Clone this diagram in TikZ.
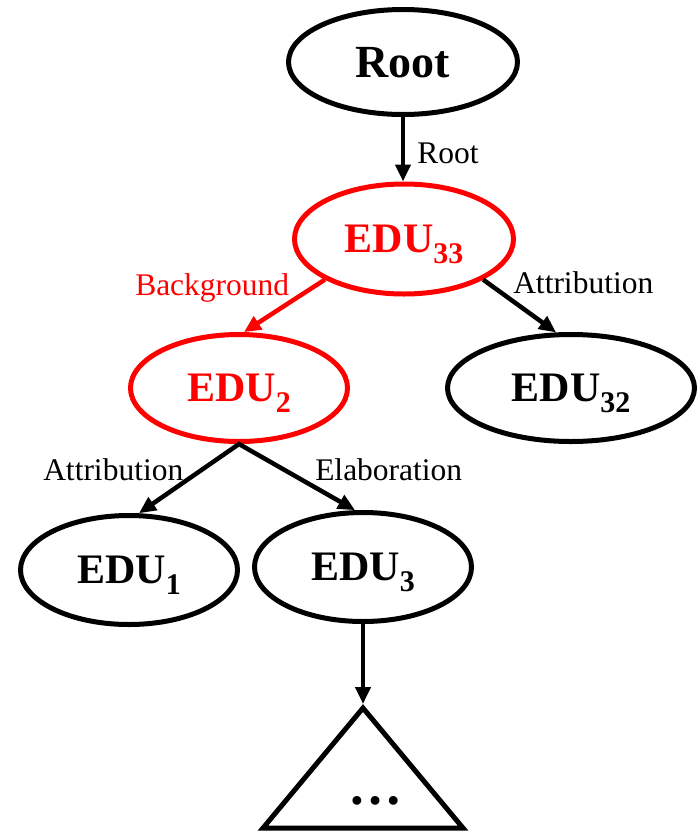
\documentclass[tikz,border=0pt]{standalone}
\usepackage{fontspec}
\setmainfont{Liberation Serif}
\usetikzlibrary{arrows.meta, shapes.geometric}

\newcommand{\edufont}{\fontsize{42}{46}\selectfont\bfseries}
\newcommand{\labfont}{\fontsize{31.5}{34}\selectfont}
\newcommand{\dsub}[1]{\raisebox{-11pt}{\fontsize{30}{30}\selectfont #1}}

\begin{document}
\begin{tikzpicture}[
    x=1pt, y=-1pt,
    >={Triangle[length=17pt,width=15pt]},
    line width=4.5pt,
    edu/.style={
        draw,
        ellipse,
        line width=5pt,
        minimum width=217pt,
        minimum height=107pt,
        inner sep=0pt,
        text depth=0pt,
        font=\edufont
    },
    hl/.style={
        draw=red,
        text=red
    },
    lab/.style={
        anchor=base west,
        inner sep=0pt,
        font=\labfont
    }
]
\useasboundingbox (0,0) rectangle (698,831);

% =========================================================
% Tree nodes
% =========================================================
\node[edu, minimum width=229pt, minimum height=105pt,
      font=\fontsize{46}{50}\selectfont\bfseries] (root) at (403, 62) {Root};

\node[edu, hl, minimum width=219pt, minimum height=110pt] (edu33) at (404, 239) {EDU\dsub{33}};

\node[edu, hl] (edu2)  at (239, 388) {EDU\dsub{2}};
\node[edu, minimum width=247pt] (edu32) at (571, 388) {EDU\dsub{32}};

\node[edu, minimum height=109pt] (edu1) at (129, 570) {EDU\dsub{1}};
\node[edu, minimum height=109pt] (edu3) at (363, 567) {EDU\dsub{3}};

% subtree below EDU_3
\coordinate (sub) at (363, 704);
\draw[line width=5pt, line join=miter] (363, 708) -- (263, 828) -- (463, 828) -- cycle;
\node[anchor=base, inner sep=0pt, font=\fontsize{54}{54}\selectfont\bfseries] (dots) at (375, 804) {…};

% =========================================================
% Relations
% =========================================================
\draw[->] (root.south) -- (root.south |- edu33.north);
\node[lab] (lroot) at (415, 163) {Root};

\draw[->, red] (edu33.south west) -- (edu2.85);
\node[lab, text=red] (lback) at (133, 295) {Background};

\draw[->] (edu33.south east) -- (edu32.105);
\node[lab] (lattr1) at (511, 293) {Attribution};

\draw[<->] (edu1.80) -- (edu2.south) -- (edu3.98);
\node[lab] (lattr2) at (41, 480) {Attribution};
\node[lab] (lelab)  at (313, 480) {Elaboration};

\draw[->] (edu3.south) -- (sub);

\end{tikzpicture}
\end{document}
